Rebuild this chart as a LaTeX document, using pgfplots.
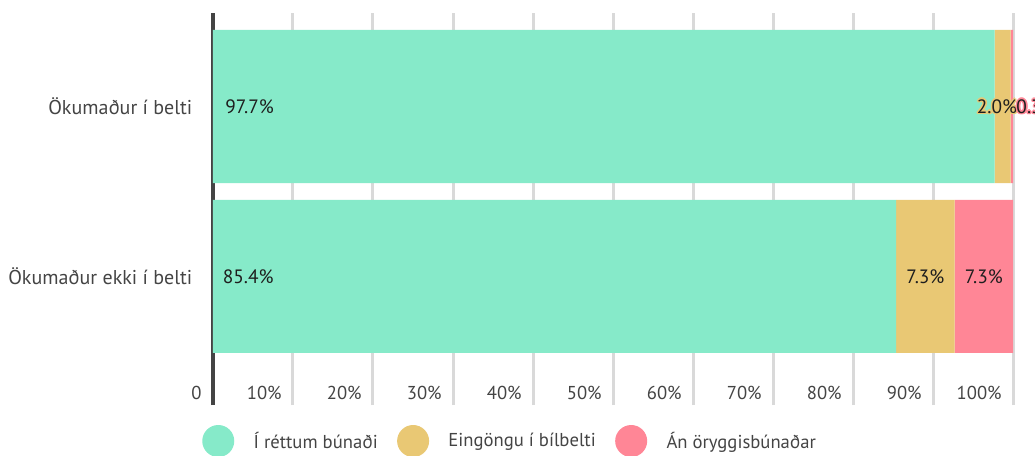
\documentclass[border=0pt]{standalone}
\usepackage{fontspec}
\setmainfont{PT Sans}
\usepackage{pgfplots}
\pgfplotsset{compat=1.18}
\definecolor{cgreen}{RGB}{134,234,201}
\definecolor{cyellow}{RGB}{233,200,116}
\definecolor{cpink}{RGB}{255,134,150}
\definecolor{cgrid}{RGB}{217,217,217}
\definecolor{caxis}{RGB}{68,68,68}
\definecolor{ctext}{RGB}{68,68,68}
\definecolor{cval}{RGB}{30,30,30}
\newcommand{\hc}[3]{\makebox[0pt][l]{\kern#1\raisebox{#2}{#3}}}
\newcommand{\halo}[2]{{\color{#1}\hc{1.2pt}{0pt}{#2}\hc{-1.2pt}{0pt}{#2}\hc{0pt}{1.2pt}{#2}\hc{0pt}{-1.2pt}{#2}\hc{0.85pt}{0.85pt}{#2}\hc{-0.85pt}{0.85pt}{#2}\hc{0.85pt}{-0.85pt}{#2}\hc{-0.85pt}{-0.85pt}{#2}}#2}
\begin{document}
\begin{tikzpicture}
\begin{axis}[
  scale only axis, width=600pt, height=294pt,
  xbar stacked, bar width=114.75pt,
  xmin=0, xmax=100, ymin=-0.756, ymax=1.55,
  ytick={0,1}, yticklabels={Ökumaður ekki í belti, Ökumaður í belti},
  xtick={0,10,20,30,40,50,60,70,80,90,100},
  xticklabels={0,10\%,20\%,30\%,40\%,50\%,60\%,70\%,80\%,90\%,100\%},
  axis lines*=left,
  x axis line style={draw=none},
  y axis line style={draw=caxis, line width=3.2pt},
  major tick length=0pt,
  xmajorgrids, ymajorgrids=false,
  major grid style={draw=cgrid, line width=2.25pt},
  tick label style={text=ctext},
  xticklabel style={font=\fontsize{14pt}{16pt}\selectfont, anchor=east, xshift=-5pt, yshift=9pt},
  yticklabel style={font=\fontsize{15pt}{17pt}\selectfont, xshift=-12pt},
  legend style={at={(0,0)}, anchor=west, xshift=-8.25pt, yshift=-27pt,
    draw=none, fill=none, inner sep=0pt, legend columns=-1,
    font=\fontsize{14pt}{16pt}\selectfont, text=ctext,
    /tikz/every even column/.append style={column sep=12.5pt},
    /tikz/every odd column/.append style={column sep=12.5pt}},
]
\addplot[fill=cgreen, draw=none, legend image code/.code={\fill[cgreen] (12pt,0pt) circle (12pt);}] coordinates {(85.4,0) (97.7,1)};
\addplot[fill=cyellow, draw=none, legend image code/.code={\fill[cyellow] (12pt,0pt) circle (12pt);}] coordinates {(7.3,0) (2.0,1)};
\addplot[fill=cpink, draw=none, legend image code/.code={\fill[cpink] (12pt,0pt) circle (12pt);}] coordinates {(7.3,0) (0.3,1)};
\legend{Í réttum búnaði, Eingöngu í bílbelti, Án öryggisbúnaðar}
\coordinate (l1) at (axis cs:1.5,1);
\coordinate (l2) at (axis cs:1.2,0);
\coordinate (l3) at (axis cs:89.05,0);
\coordinate (l4) at (axis cs:96.35,0);
\coordinate (l5) at (axis cs:98.0,1);
\coordinate (l6) at (axis cs:100.4,1);
\end{axis}
\begin{scope}[every node/.style={font=\fontsize{14.5pt}{16pt}\selectfont, text=cval}]
\node[anchor=west, inner sep=0pt] at (l1) {97.7\%};
\node[anchor=west, inner sep=0pt] at (l2) {85.4\%};
\node at (l3) {7.3\%};
\node at (l4) {7.3\%};
\node at (l5) {\halo{cyellow}{2.0\%}};
\node[anchor=west, inner sep=0pt] at (l6) {\halo{cpink}{0.3\%}};
\end{scope}
\pgfresetboundingbox
\useasboundingbox (-159.75pt,-37.5pt) rectangle (616.5pt,303.75pt);
\end{tikzpicture}
\end{document}
